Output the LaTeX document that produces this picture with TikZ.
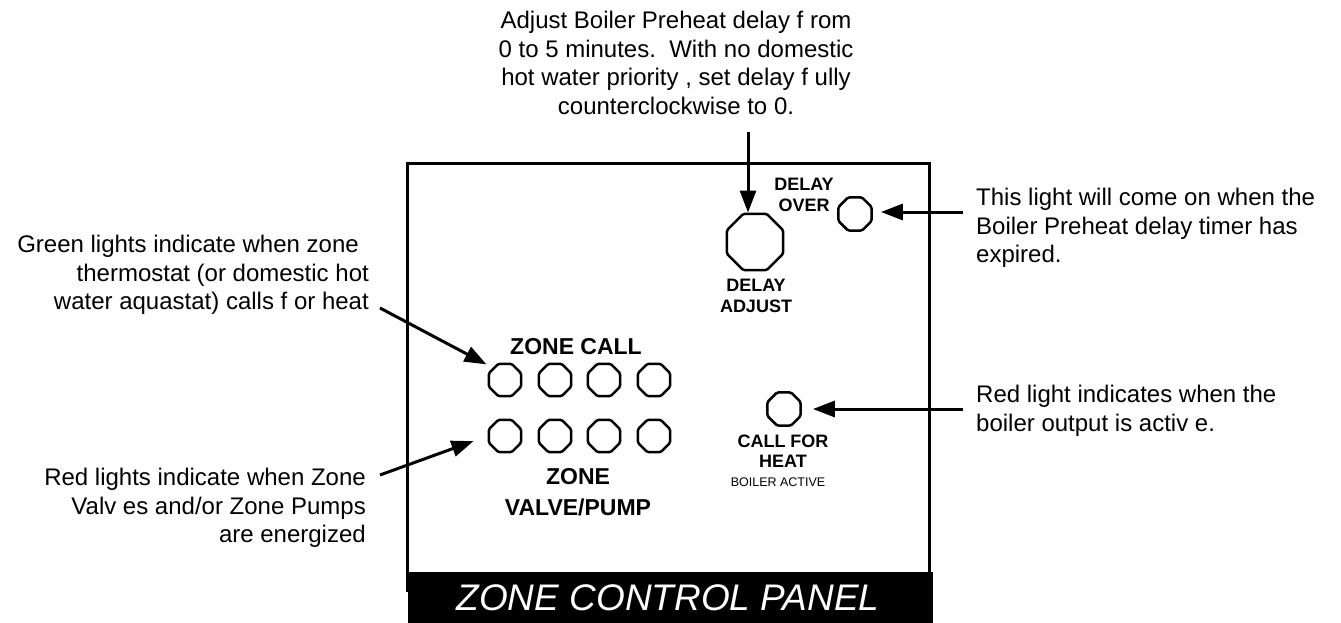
\documentclass[tikz,border=0pt]{standalone}
\usepackage{fontspec}
\setmainfont{Liberation Sans}
\usetikzlibrary{arrows.meta,shapes.geometric}
\begin{document}
\begin{tikzpicture}[x=1pt,y=-1pt,
  lamp/.style={draw,line width=2.5pt,rounded corners=1.5pt,regular polygon,regular polygon sides=8,inner sep=0pt},
  note/.style={font=\fontsize{24}{28.5}\selectfont,inner sep=0pt},
  lbl/.style={font=\bfseries\fontsize{18}{20.5}\selectfont,align=center,inner sep=0pt},
  big/.style={font=\bfseries\fontsize{23}{31}\selectfont,align=center,inner sep=0pt},
  arr/.style={line width=3pt,-{Triangle[length=22pt,width=16pt]}}]
\useasboundingbox (0,0) rectangle (1341,623);
% panel
\draw[line width=3pt] (407,592) -- (407,163) -- (929.5,163) -- (929.5,572);
\fill[black] (408,572) rectangle (933,623);
\node[text=white,font=\itshape\fontsize{37}{40}\selectfont,inner sep=0pt] (title) at (668,598) {ZONE CONTROL PANEL};
% lamps
\node[lamp,minimum size=61pt] (adj) at (755,242) {};
\node[lamp,minimum size=36pt] (over) at (855,214) {};
\foreach \i/\x in {1/505,2/555,3/604,4/654}{
  \node[lamp,minimum size=35pt] (c\i) at (\x,380) {};
  \node[lamp,minimum size=35pt] (v\i) at (\x,436) {};
}
\node[lamp,minimum size=36pt] (cfh) at (784,409) {};
% panel labels
\node[lbl] (dover) at (804,195) {DELAY\\OVER};
\node[lbl] (dadj) at (756,296) {DELAY\\ADJUST};
\node[big] (zc) at (576,347) {ZONE CALL};
\node[big] (zv) at (578,492) {ZONE\\VALVE/PUMP};
\node[lbl] (cf) at (783,451) {CALL FOR\\HEAT};
\node[font=\fontsize{12.5}{14}\selectfont,inner sep=0pt] (ba) at (778,482) {BOILER ACTIVE};
% notes
\node[note,align=center] (ntop) at (676,63) {Adjust Boiler Preheat delay f rom\\0 to 5 minutes.\ \ With no domestic\\hot water priority , set delay f ully\\counterclockwise to 0.};
\node[note,align=left,anchor=west] (nover) at (976,228) {This light will come on when the\\Boiler Preheat delay timer has\\expired.};
\node[note,align=left,anchor=west] (nheat) at (976,411) {Red light indicates when the\\boiler output is activ e.};
\node[note,align=right,anchor=east] (ngreen) at (369,275) {Green lights indicate when zone\hspace*{10pt}\\thermostat (or domestic hot\\water aquastat) calls f or heat};
\node[note,align=right,anchor=east] (nred) at (366,508) {Red lights indicate when Zone\\Valv es and/or Zone Pumps\\are energized};
% connectors
\coordinate (s1) at (748,132);
\coordinate (s2) at (963,212);
\coordinate (s3) at (963,409);
\coordinate (s4) at (380,308);
\coordinate (s5) at (380,475);
\draw[arr] (s1) -- (s1 |- adj.north);
\draw[arr,shorten >=8pt] (s2) -- (over.east |- s2);
\draw[arr,shorten >=11pt] (s3) -- (cfh.east |- s3);
\draw[arr,shorten >=7pt] (s4) -- (c1.north west);
\draw[arr,shorten >=15pt] (s5) -- (v1.west);
\end{tikzpicture}
\end{document}
